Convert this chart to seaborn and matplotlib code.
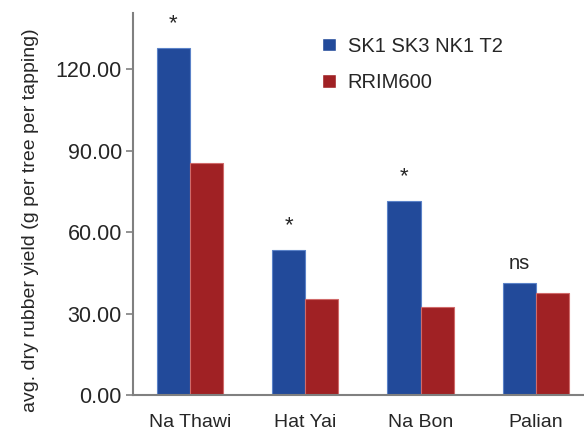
import pandas as pd
import seaborn as sns
import matplotlib.pyplot as plt

# values
sites = ['Na Thawi', 'Hat Yai', 'Na Bon', 'Palian']
clones = ['SK1 SK3 NK1 T2', 'RRIM600']
yield_sk = [127.8, 53.4, 71.6, 41.2]
yield_rrim = [85.6, 35.4, 32.5, 37.7]
signif = ['*', '*', '*', 'ns']
y_ticks = [0, 30, 60, 90, 120]

df = pd.DataFrame({
    'site': sites * 2,
    'clone': [clones[0]] * 4 + [clones[1]] * 4,
    'yield': yield_sk + yield_rrim,
})

sns.set_style('white')
plt.rcParams['font.family'] = ['Liberation Sans', 'DejaVu Sans']

fig = plt.figure(figsize=(5.84, 4.3), dpi=100)
ax = fig.add_axes([0.2277, 0.0814, 0.7723, 0.8884])

palette = {clones[0]: '#224a9a', clones[1]: '#a02124'}
sns.barplot(data=df, x='site', y='yield', hue='clone', order=sites,
            hue_order=clones, palette=palette, width=0.574, gap=0,
            saturation=1, ax=ax)

# lighter outline like the original
edge = {'#224a9a': '#5b82c8', '#a02124': '#d06a6a'}
for bars, col in zip(ax.containers, ['#224a9a', '#a02124']):
    for b in bars:
        b.set_edgecolor(edge[col])
        b.set_linewidth(0.8)

# significance marks above the blue bars
for bar, lab in zip(ax.containers[0], signif):
    cx = bar.get_x() + bar.get_width() / 2
    off = 10 if lab == '*' else 7
    ax.annotate(lab, (cx, bar.get_height()), xytext=(0, off),
                textcoords='offset points', ha='center', va='bottom',
                fontsize=16 if lab == '*' else 14.5)

ax.set_xlim(-0.494, 3.417)
ax.set_ylim(0, 140.8)
ax.set_yticks(y_ticks)
ax.set_yticklabels([f'{v:.2f}' for v in y_ticks])
ax.set_xlabel('')
ax.set_ylabel('avg. dry rubber yield (g per tree per tapping)', fontsize=14)
ax.yaxis.set_label_coords(-0.208, 0.457)

ax.tick_params(axis='y', labelsize=15.5, length=5, width=1.2, color='#808080',
               pad=3, left=True)
ax.tick_params(axis='x', labelsize=14, length=0, pad=14)

for s in ['top', 'right']:
    ax.spines[s].set_visible(False)
for s in ['left', 'bottom']:
    ax.spines[s].set_color('#808080')
    ax.spines[s].set_linewidth(1.5)

ax.legend(loc='upper left', bbox_to_anchor=(0.38, 0.985), frameon=False,
          fontsize=14.5, handlelength=0.65, handleheight=0.65,
          handletextpad=0.6, labelspacing=0.85)

fig.savefig('out.png', dpi=100)
